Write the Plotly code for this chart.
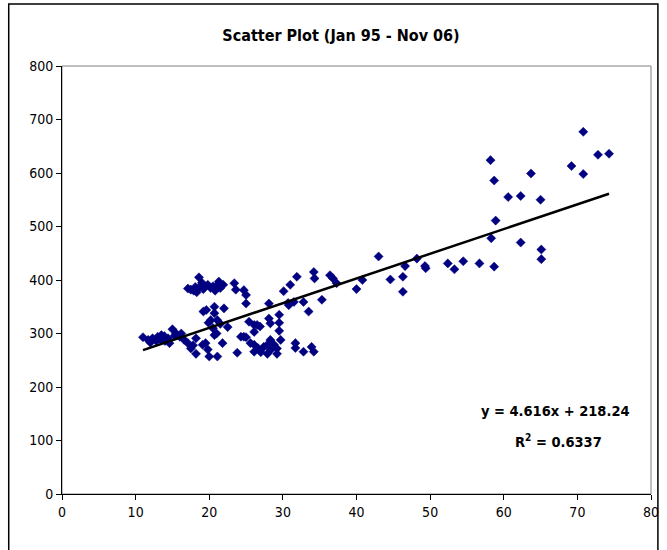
import plotly.graph_objects as go

# ---- data ----
x_vals = [
    11.0, 11.7, 12.3, 12.8, 13.0, 13.4, 13.9, 14.4, 14.6, 15.0, 15.5, 16.0, 16.6, 17.1, 17.5,
    18.2, 18.2, 19.1, 19.5, 20.0, 21.1, 20.7, 21.8, 12.0, 13.5, 14.0, 15.3, 16.2, 17.8, 19.8,
    17.1, 17.5, 17.9, 18.3, 18.1, 18.6, 18.6, 19.2, 19.8, 20.2, 20.5, 21.1, 21.3, 21.5, 21.9,
    23.4, 23.6, 24.7, 25.0, 25.0, 19.0, 20.8,
    19.2, 19.6, 20.2, 20.7, 20.7, 21.1, 22.0, 22.5, 20.5, 21.5, 19.9, 21.0, 23.8,
    24.3, 24.7, 25.4, 25.6, 26.1, 26.1, 26.1, 26.1, 26.5, 26.6, 26.9, 27.4, 27.9, 27.9, 28.1,
    28.3, 28.3, 28.3, 28.8, 29.2, 29.2, 29.5, 29.5, 29.5, 29.7, 28.1, 27.0, 25.0,
    30.1, 30.8, 30.7, 31.0, 31.5, 31.7, 31.7, 31.9, 32.8, 32.8, 33.5, 33.9, 34.2, 34.2, 34.3,
    35.3, 36.4, 36.8, 37.3,
    40.0, 40.8, 43.0, 44.6, 46.3, 46.3, 46.6, 48.2, 49.3, 49.4, 52.4, 53.3, 54.5, 56.7, 58.3,
    58.7, 58.2, 58.7, 58.9, 60.6, 62.3, 62.3, 63.7, 65.0, 65.1, 65.1, 69.2, 70.8, 70.8, 72.8, 74.3,
]
y_vals = [
    293, 288, 291, 286, 294, 288, 295, 291, 282, 308, 300, 294, 288, 282, 272,
    291, 262, 279, 282, 257, 257, 297, 282, 283, 297, 286, 296, 300, 278, 270,
    384, 382, 380, 377, 387, 405, 386, 383, 391, 385, 388, 391, 397, 385, 391,
    394, 382, 381, 372, 356, 395, 380,
    341, 344, 325, 338, 350, 325, 347, 312, 310, 318, 320, 300, 264,
    294, 294, 322, 282, 316, 303, 279, 266, 316, 273, 313, 275, 279, 262, 328,
    319, 288, 269, 279, 272, 262, 335, 320, 305, 288, 356, 265, 293,
    379, 353, 357, 391, 359, 282, 273, 406, 359, 266, 341, 275, 266, 415, 403,
    363, 409, 403, 394,
    383, 400, 444, 401, 406, 378, 426, 440, 426, 422, 431, 420, 435, 431, 478,
    425, 624, 586, 511, 555, 557, 470, 599, 550, 457, 439, 613, 677, 598, 634, 636,
]

slope = 4.616
intercept = 218.24
r_squared = 0.6337

title_text = "Scatter Plot (Jan 95 - Nov 06)"
x_ticks = [0, 10, 20, 30, 40, 50, 60, 70, 80]
y_ticks = [0, 100, 200, 300, 400, 500, 600, 700, 800]

FONT = "DejaVu Sans Condensed, Liberation Sans, Arial, sans-serif"

trend_x = [min(x_vals), max(x_vals)]
trend_y = [slope * v + intercept for v in trend_x]

fig = go.Figure()
fig.add_trace(go.Scatter(
    x=x_vals, y=y_vals, mode="markers",
    marker=dict(symbol="diamond", size=7, color="#000080",
                line=dict(width=0.5, color="#000080")),
    showlegend=False, hoverinfo="x+y",
))
fig.add_trace(go.Scatter(
    x=trend_x, y=trend_y, mode="lines",
    line=dict(color="black", width=2.5),
    showlegend=False, hoverinfo="skip",
))

L, R, T, B = 62, 8, 66, 56
W, H = 667, 550
pw, ph = W - L - R, H - T - B

def px_x(p):
    return (p - L) / pw

def px_y(p):
    return (H - B - p) / ph

fig.update_layout(
    width=W, height=H,
    margin=dict(l=L, r=R, t=T, b=B, pad=0),
    paper_bgcolor="white", plot_bgcolor="white",
    font=dict(family=FONT, size=14, color="black"),
    title=dict(text="<b>" + title_text + "</b>", x=341 / W,
               xanchor="center", y=1 - 35 / H, yanchor="middle",
               font=dict(family=FONT, size=16, color="black")),
    xaxis=dict(range=[0, 80], tickvals=x_ticks, showgrid=False, zeroline=False,
               showline=True, linecolor="black", linewidth=1,
               ticks="outside", ticklen=5, tickcolor="black",
               ticklabeloverflow="allow",
               tickfont=dict(family=FONT, size=14), fixedrange=True),
    yaxis=dict(range=[0, 800], tickvals=y_ticks, showgrid=False, zeroline=False,
               showline=True, linecolor="black", linewidth=1,
               ticks="outside", ticklen=5, tickcolor="black",
               tickfont=dict(family=FONT, size=14), fixedrange=True),
    shapes=[
        # gray plot-area border
        dict(type="rect", xref="paper", yref="paper", x0=0, y0=0, x1=1, y1=1,
             line=dict(color="#808080", width=1), layer="below"),
        # outer chart frame
        dict(type="rect", xref="paper", yref="paper",
             x0=px_x(8), x1=px_x(666), y0=px_y(556), y1=px_y(4),
             line=dict(color="black", width=1.5), layer="above"),
    ],
    annotations=[
        dict(text="<b>y = %.3fx + %.2f</b>" % (slope, intercept),
             xref="paper", yref="paper", x=px_x(562), y=px_y(411),
             xanchor="center", yanchor="middle", showarrow=False,
             font=dict(family=FONT, size=14.5, color="black")),
        dict(text="<b>R<sup>2</sup> = %.4f</b>" % r_squared,
             xref="paper", yref="paper", x=px_x(565), y=px_y(441),
             xanchor="center", yanchor="middle", showarrow=False,
             font=dict(family=FONT, size=14.5, color="black")),
    ],
)

fig.write_html(
    "out.html", config={"displayModeBar": False},
    post_script=("document.documentElement.style.margin='0';"
                 "document.documentElement.style.overflow='hidden';"
                 "document.body.style.margin='0';"
                 "document.body.style.overflow='hidden';"),
)
